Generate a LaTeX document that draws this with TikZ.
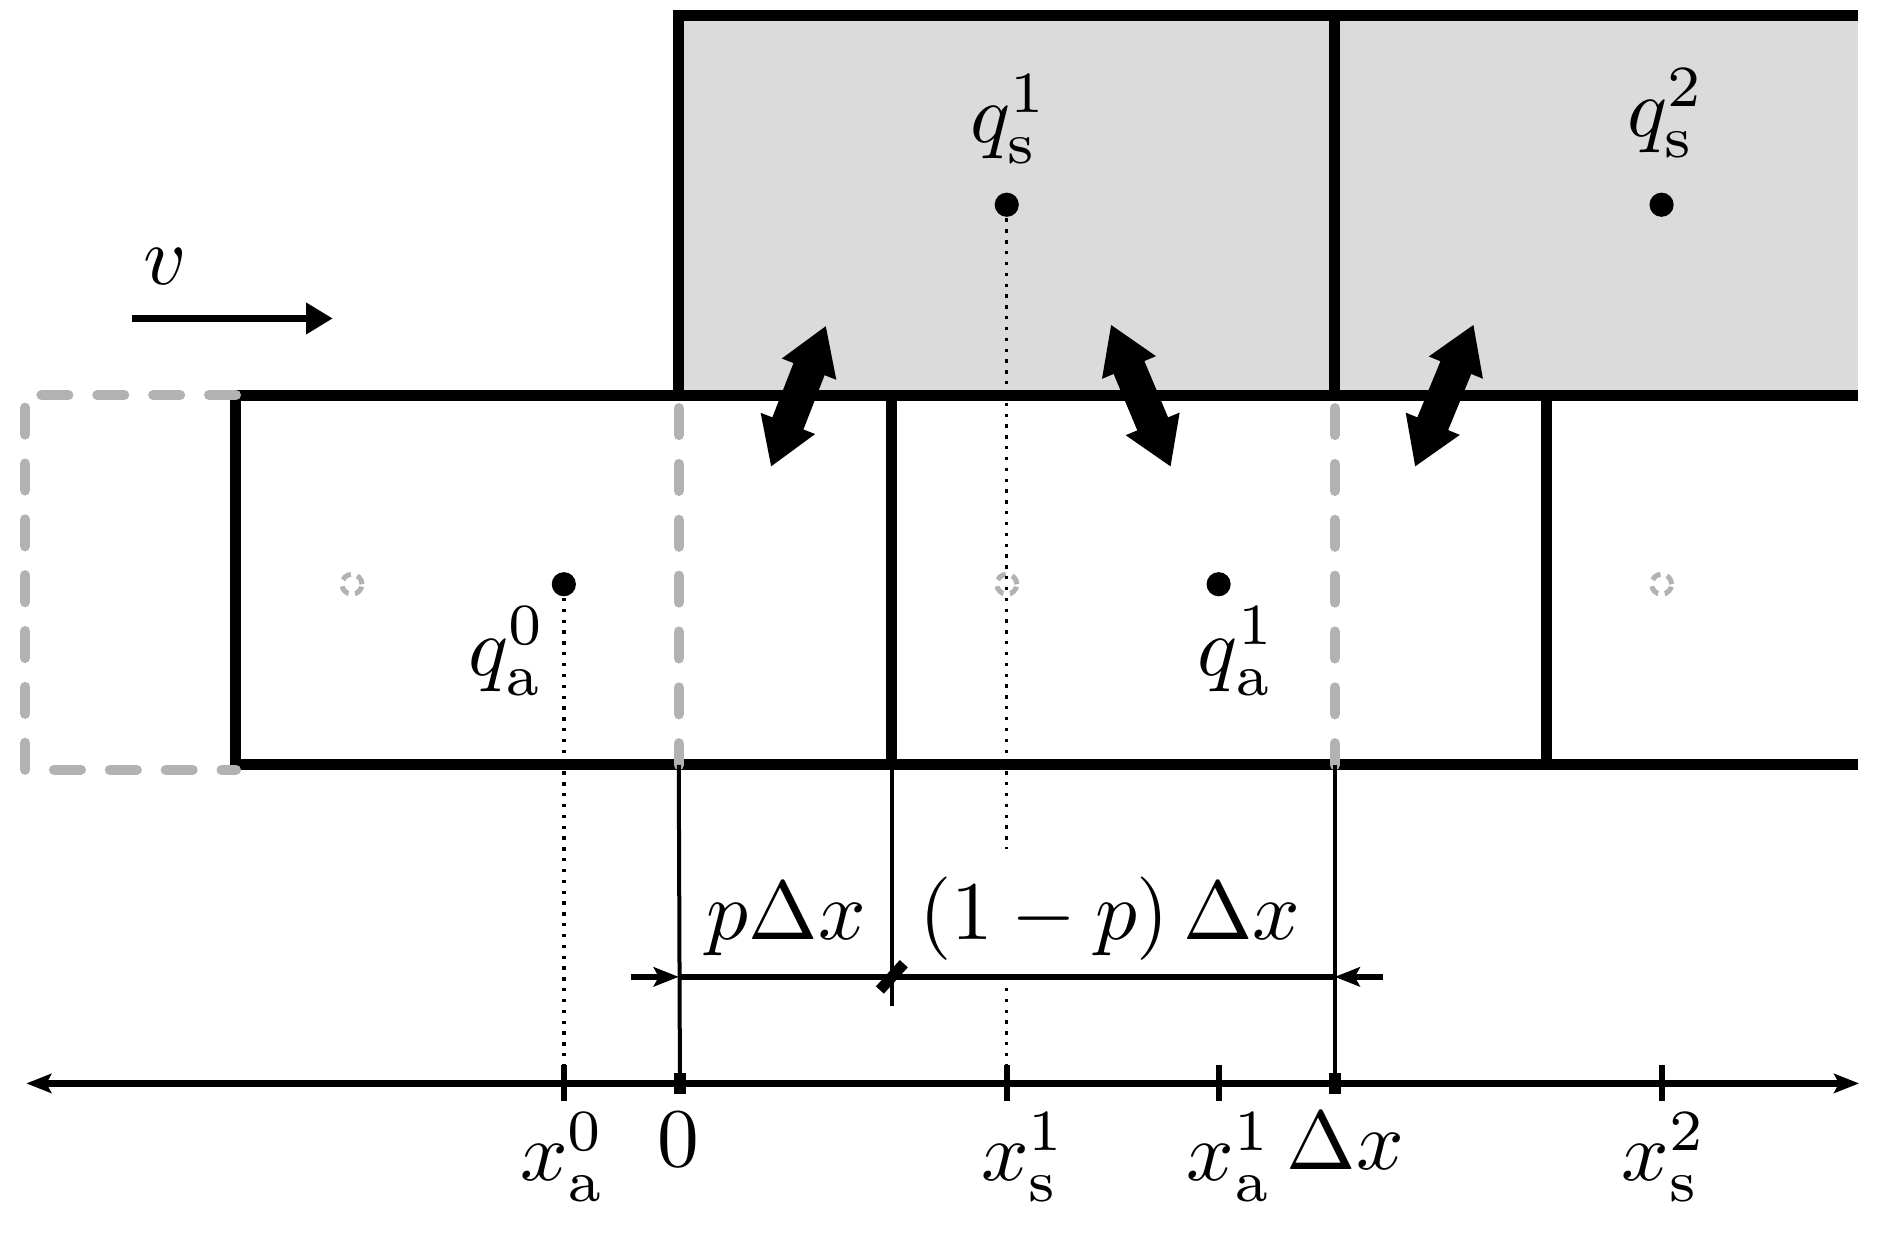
\documentclass[tikz,border=0pt]{standalone}
\usetikzlibrary{arrows.meta}
\definecolor{dgray}{gray}{0.70}
\definecolor{cellfill}{gray}{0.86}
\begin{document}
\begin{tikzpicture}[x=0.1436pt,y=-0.1436pt,
  wall/.style={line width=1.32pt,line join=miter},
  ghost/.style={line width=1.25pt,draw=dgray,line cap=round,dash pattern=on 3.2pt off 3.5pt},
  thinline/.style={line width=0.48pt},
  dotline/.style={line width=0.4pt,dash pattern=on 0.4pt off 0.9pt},
  dot/.style={circle,fill=black,inner sep=0pt,minimum size=2.9pt},
  ghostdot/.style={circle,draw=dgray,line width=0.6pt,dash pattern=on 1.2pt off 0.8pt,inner sep=0pt,minimum size=2.4pt},
  tickthin/.style={line width=0.72pt},
  tickthick/.style={line width=1.45pt},
  exch/.style={line width=4pt,{Triangle[length=5.6pt,width=6.6pt]}-{Triangle[length=5.6pt,width=6.6pt]}},
  dimtip/.style={-{Stealth[length=3pt,width=2.3pt,inset=0.6pt]}},
  lab/.style={inner sep=3.33pt},
  dimlab/.style={fill=white,inner sep=3.33pt,anchor=base}
]
\useasboundingbox (0,0) rectangle (1568,1030);

% shaded top row
\fill[cellfill] (567,13) rectangle (1552,330);

% coordinates
\coordinate (Ttop) at (1552,13);
\coordinate (Tl) at (567,13);
\coordinate (Tbl) at (567,330);
\coordinate (Mr) at (1552,330);
\coordinate (Ml) at (197,330);
\coordinate (Bl) at (197,639);
\coordinate (Br) at (1552,639);

% black walls
\draw[wall] (Ttop) -- (Tl) -- (Tbl);
\draw[wall] (Mr) -- (Ml) -- (Bl) -- (Br);
\draw[wall] (1115,13) -- (1115,330);
\draw[wall] (745,330) -- (745,639);
\draw[wall] (1292,330) -- (1292,639);

% ghost (shifted) cell boundaries
\draw[ghost] (197,330) -- (21,330) -- (21,643) -- (197,643);
\draw[ghost] (567,341) -- (567,639);
\draw[ghost] (1115,341) -- (1115,639);

% axis
\coordinate (axL) at (22,905);
\coordinate (axR) at (1553,905);
\draw[line width=0.88pt,{Stealth[length=3pt,width=2.3pt,inset=0.6pt]}-{Stealth[length=3pt,width=2.3pt,inset=0.6pt]}] (axL) -- (axR);

% axis tick coordinates
\coordinate (xa0) at (471,905);
\coordinate (x0) at (568,905);
\coordinate (xs1) at (841,905);
\coordinate (xa1) at (1018,905);
\coordinate (xdx) at (1115,905);
\coordinate (xs2) at (1388,905);

% points
\node[dot] (qs1) at (841,171) {};
\node[dot] (qs2) at (1388,171) {};
\node[dot] (qa0) at (471,488) {};
\node[dot] (qa1) at (1018,488) {};
\node[ghostdot] (g0) at (294,488) {};
\node[ghostdot] (g1) at (841,488) {};
\node[ghostdot] (g2) at (1388,488) {};

% dotted projections
\draw[dotline] (qa0) -- ([shift={(0,-15)}]xa0);
\draw[dotline] (qs1) -- ([shift={(0,-15)}]xs1);

% dimension labels (white background hides the dotted line)
\node[dimlab] (lp) at (657,785) {$p\Delta x$};
\node[dimlab] (l1p) at (927,785) {$(1-p)\,\Delta x$};

% ticks
\foreach \c in {xa0,xs1,xa1,xs2} \draw[tickthin] ([shift={(0,-15)}]\c) -- ([shift={(0,15)}]\c);
\foreach \c in {x0,xdx} \draw[tickthick] ([shift={(0,-8.5)}]\c) -- ([shift={(0,8.5)}]\c);

% thin extension lines
\coordinate (e0) at (567,639);
\coordinate (e1) at (745,639);
\coordinate (e1b) at (745,840);
\coordinate (e2) at (1115,639);
\draw[thinline] (e0) -- (x0);
\draw[thinline] (e1) -- (e1b);
\draw[thinline] (e2) -- (xdx);

% dimension line
\coordinate (dA) at (527,816);
\coordinate (d0) at (567,816);
\coordinate (d1) at (745,816);
\coordinate (d2) at (1115,816);
\coordinate (dB) at (1155,816);
\draw[line width=0.8pt] (d0) -- (d2);
\draw[line width=0.8pt,dimtip] (dA) -- (d0);
\draw[line width=0.8pt,dimtip] (dB) -- (d2);
\draw[line width=1.3pt] ([shift={(-10,11)}]d1) -- ([shift={(10,-11)}]d1);

% velocity
\coordinate (v0) at (110,266);
\coordinate (v1) at (278,266);
\draw[line width=0.8pt,-{Triangle[length=3.2pt,width=3.6pt]}] (v0) -- (v1);
\node[anchor=base] (vlab) at (138,238) {$v$};

% exchange arrows
\coordinate (a1u) at (690,272);
\coordinate (a1d) at (644,390);
\coordinate (a2u) at (928,271);
\coordinate (a2d) at (978,390);
\coordinate (a3u) at (1231,271);
\coordinate (a3d) at (1182,390);
\draw[exch] (a1d) -- (a1u);
\draw[exch] (a2d) -- (a2u);
\draw[exch] (a3d) -- (a3u);

% point labels
\node[anchor=base] (lqs1) at (843,119) {$q_{\mathrm{s}}^{1}$};
\node[anchor=base] (lqs2) at (1392,114) {$q_{\mathrm{s}}^{2}$};
\node[anchor=base] (lqa0) at (424,564) {$q_{\mathrm{a}}^{0}$};
\node[anchor=base] (lqa1) at (1033,564) {$q_{\mathrm{a}}^{1}$};

% axis labels
\node[lab,anchor=north] (txa0) at (470,905) {$x_{\mathrm{a}}^{0}$};
\node[lab,anchor=north] (tx0) at (567,905) {$0$};
\node[lab,anchor=north] (txs1) at (855,905) {$x_{\mathrm{s}}^{1}$};
\node[lab,anchor=north] (txa1) at (1027,905) {$x_{\mathrm{a}}^{1}$};
\node[lab,anchor=north] (tdx) at (1124,905) {$\Delta x$};
\node[lab,anchor=north] (txs2) at (1390,905) {$x_{\mathrm{s}}^{2}$};
\end{tikzpicture}
\end{document}
